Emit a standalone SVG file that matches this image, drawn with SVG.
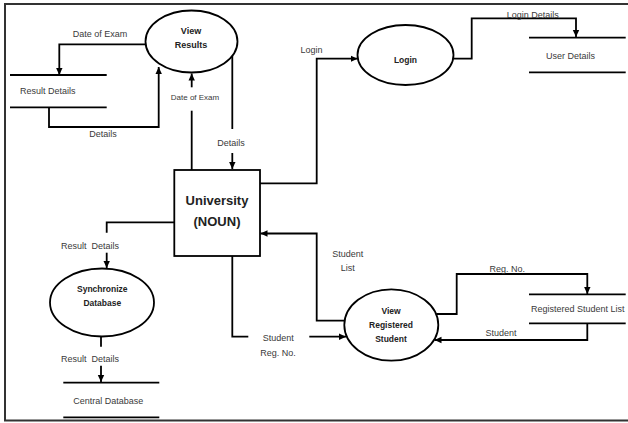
<svg xmlns="http://www.w3.org/2000/svg" width="628" height="423" viewBox="0 0 628 423">
<defs>
<marker id="arr" markerUnits="userSpaceOnUse" markerWidth="8" markerHeight="8" refX="7" refY="4" orient="auto">
<path d="M0,0.8 L7,4 L0,7.2 Z" fill="#000"/>
</marker>
<style>
.ln{fill:none;stroke:#000;stroke-width:1.8}
.ar{fill:none;stroke:#000;stroke-width:1.8;marker-end:url(#arr)}
.shape{fill:#fff;stroke:#000;stroke-width:1.8}
.st{stroke:#000;stroke-width:1.8}
.lb{font-family:"Liberation Sans",Arial,sans-serif;font-size:9px;fill:#3a3a3a}
.bd{font-family:"Liberation Sans",Arial,sans-serif;font-weight:bold;fill:#222;text-anchor:middle}
.m{text-anchor:middle}
</style>
</defs>
<rect width="628" height="423" fill="#fff"/>
<path d="M628,4 H5 V420.5 H628" fill="none" stroke="#333" stroke-width="2"/>
<g id="connectors">
<path class="ar" d="M145,44.3 H59.3 V75"/>
<path class="ar" d="M49,107.5 V127 H158.7 V67"/>
<path class="ln" d="M191.7,170 V110.7"/>
<path class="ar" d="M191.7,87.3 V73.5"/>
<path class="ln" d="M232.3,56 V129"/>
<path class="ar" d="M232.3,153 V169"/>
<path class="ar" d="M260,183.3 H316.7 V58.7 H357.5"/>
<path class="ar" d="M453.3,58.7 H471.7 V18.3 H576 V37"/>
<path class="ar" d="M344.6,320.7 H316.7 V233.5 H260.5"/>
<path class="ln" d="M232.3,256 V336.7 H248.3"/>
<path class="ar" d="M309.3,336.7 H346"/>
<path class="ar" d="M436.5,314 H456.7 V274 H587.3 V294"/>
<path class="ar" d="M587.3,323.3 V340 H434.5"/>
<path class="ln" d="M174.3,222.3 H106.7 V232.7"/>
<path class="ar" d="M106.7,252.7 V268"/>
<path class="ln" d="M101,336.7 V346.7"/>
<path class="ar" d="M101,365.7 V382"/>
</g>
<g id="connector-labels">
<text class="lb m" x="100" y="37.2">Date of Exam</text>
<text class="lb m" x="103" y="137">Details</text>
<text class="lb m" x="195" y="100" style="font-size:8px">Date of Exam</text>
<text class="lb m" x="231" y="146">Details</text>
<text class="lb" x="300.5" y="53.2">Login</text>
<text class="lb m" x="532.7" y="17.5">Login Details</text>
<text class="lb m" x="347.7" y="256.5">Student</text>
<text class="lb m" x="347.7" y="271">List</text>
<text class="lb m" x="507.3" y="271.5">Reg. No.</text>
<text class="lb m" x="501" y="336">Student</text>
<text class="lb m" x="278.3" y="341">Student</text>
<text class="lb m" x="278" y="355.5">Reg. No.</text>
<text class="lb m" x="90" y="249" style="white-space:pre">Result  Details</text>
<text class="lb m" x="90" y="362" style="white-space:pre">Result  Details</text>
</g>
<g id="view-results">
<ellipse class="shape" cx="191.5" cy="41.5" rx="46" ry="31"/>
<text class="bd" x="191" y="33.7" font-size="9">View</text>
<text class="bd" x="191" y="48" font-size="9">Results</text>
</g>
<g id="result-details">
<line class="st" x1="10" y1="75" x2="106.7" y2="75"/>
<line class="st" x1="10" y1="107.3" x2="106.7" y2="107.3"/>
<text class="lb" x="20" y="94">Result Details</text>
</g>
<g id="login">
<ellipse class="shape" cx="405.5" cy="55" rx="48" ry="30"/>
<text class="bd" x="405.5" y="63" font-size="8.5">Login</text>
</g>
<g id="user-details">
<line class="st" x1="529" y1="37.7" x2="625.7" y2="37.7"/>
<line class="st" x1="529" y1="72.3" x2="625.7" y2="72.3"/>
<text class="lb" x="546" y="59">User Details</text>
</g>
<g id="university">
<rect class="shape" x="174.3" y="170" width="85.7" height="86"/>
<text class="bd" x="217" y="204.6" font-size="13">University</text>
<text class="bd" x="217" y="226.3" font-size="13">(NOUN)</text>
</g>
<g id="view-registered-student">
<ellipse class="shape" cx="391.3" cy="325" rx="47" ry="35.7"/>
<text class="bd" x="391" y="313.7" font-size="8.5">View</text>
<text class="bd" x="391" y="328" font-size="8.5">Registered</text>
<text class="bd" x="391" y="342.3" font-size="8.5">Student</text>
</g>
<g id="registered-student-list">
<line class="st" x1="529" y1="294.3" x2="625.7" y2="294.3"/>
<line class="st" x1="529" y1="323.3" x2="625.7" y2="323.3"/>
<text class="lb" x="531" y="312">Registered Student List</text>
</g>
<g id="synchronize-database">
<ellipse class="shape" cx="102" cy="302.5" rx="52" ry="34"/>
<text class="bd" x="102.3" y="291.7" font-size="8.5">Synchronize</text>
<text class="bd" x="102.3" y="306.3" font-size="8.5">Database</text>
</g>
<g id="central-database">
<line class="st" x1="63.3" y1="382.7" x2="159.3" y2="382.7"/>
<line class="st" x1="63.3" y1="417.3" x2="159.3" y2="417.3"/>
<text class="lb m" x="108.3" y="404">Central Database</text>
</g>
</svg>
